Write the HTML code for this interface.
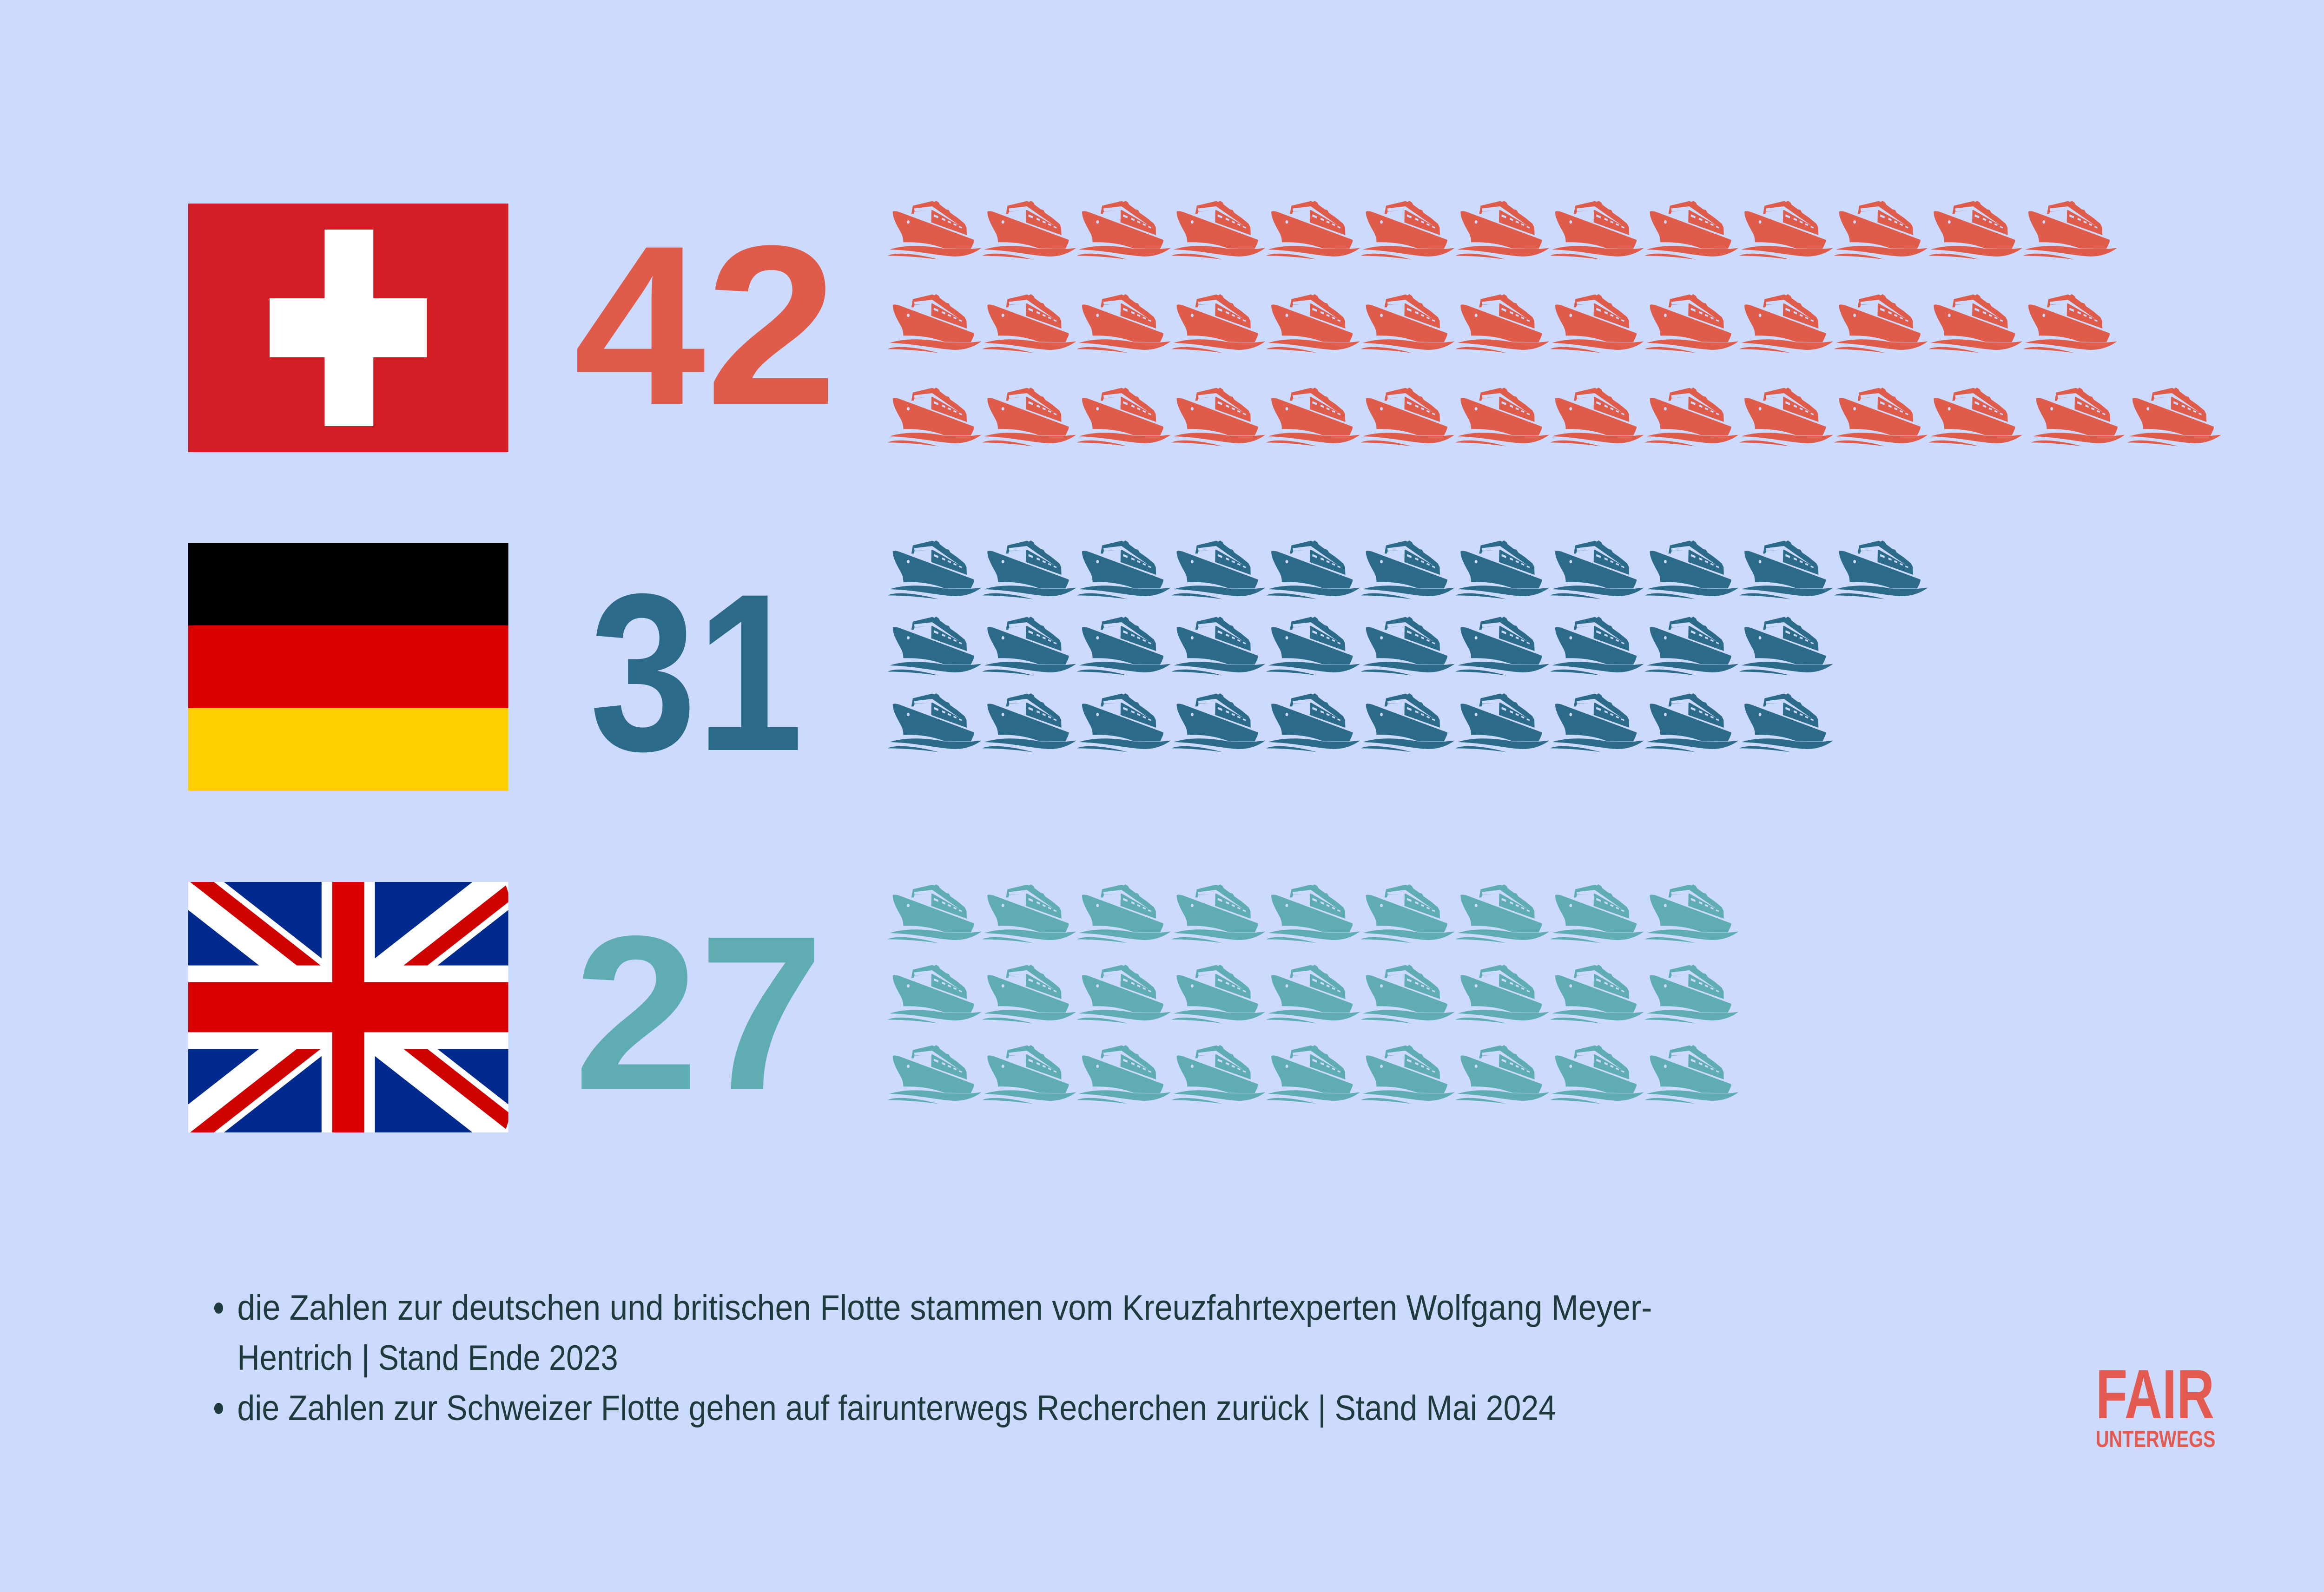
<!DOCTYPE html>
<html><head><meta charset="utf-8"><style>
html,body{margin:0;padding:0;background:#CCDAFD;overflow:hidden;width:100%;height:100%;}
svg.main{display:block;width:100vw;height:100vh;}
</style></head><body>
<svg class="main" viewBox="0 0 6250 3426" preserveAspectRatio="none" xmlns="http://www.w3.org/2000/svg" xmlns:xlink="http://www.w3.org/1999/xlink">
<defs>
<g id="ship"><g transform="scale(0.3333) translate(-15,-100)">
<path d="M60,175 C55,165 80,165 110,172 L715,352 C722,360 705,385 690,410 L475,408 C400,385 300,365 145,368 C145,340 135,320 125,305 C90,255 60,210 60,175 Z"/>
<path d="M35,415 C150,385 300,385 475,410 L690,412 L775,405 C700,450 620,460 560,460 C420,455 250,420 35,415 Z"/>
<path d="M18,455 C80,430 250,440 430,480 C300,465 150,455 18,455 Z"/>
<path d="M210,185 L222,132 L380,102 L395,108 L410,100 L432,112 L440,125 L490,155 L512,160 L525,178 L565,200 L582,210 L640,248 L655,272 L657,322 L370,240 L372,160 L362,160 L235,170 L228,185 Z"/>
<path fill="#CCDAFD" d="M232,150 L378,136 L600,260 L380,160 L236,168 Z"/>
<circle cx="185" cy="237" r="11" fill="#CCDAFD"/>
<g fill="#CCDAFD">
<path d="M392,188 L428,200 L426,214 L390,202 Z"/>
<path d="M458,210 L484,219 L482,231 L456,222 Z"/>
<path d="M506,228 L530,236 L528,247 L504,239 Z"/>
<path d="M551,245 L574,253 L572,263 L549,255 Z"/>
<path d="M595,262 L618,270 L616,279 L593,271 Z"/>
</g>
</g></g>
<g id="s9">
<use xlink:href="#ship" x="0"/><use xlink:href="#ship" x="254.5"/><use xlink:href="#ship" x="509"/>
<use xlink:href="#ship" x="763.5"/><use xlink:href="#ship" x="1018"/><use xlink:href="#ship" x="1272.5"/>
<use xlink:href="#ship" x="1527"/><use xlink:href="#ship" x="1781.5"/><use xlink:href="#ship" x="2036"/>
</g>
</defs>
<rect width="6250" height="3426" fill="#CCDAFD"/>

<rect x="506" y="438" width="861" height="535" fill="#D21F26"/>
<rect x="873" y="494" width="131" height="423" fill="#fff"/>
<rect x="725" y="642" width="423" height="127" fill="#fff"/>

<rect x="506" y="1168" width="861" height="179" fill="#000"/>
<rect x="506" y="1346" width="861" height="179" fill="#DD0000"/>
<rect x="506" y="1524" width="861" height="178" fill="#FFCE00"/>

<svg x="506" y="1898" width="861" height="539" viewBox="0 0 60 30" preserveAspectRatio="none">
<rect width="60" height="30" fill="#012A8F"/>
<path d="M0,0 L60,30 M60,0 L0,30" stroke="#fff" stroke-width="6"/>
<path d="M0,0 L30,15 M60,30 L30,15" stroke="#CF0000" stroke-width="2" transform="translate(0,-1.3)"/>
<path d="M60,0 L30,15 M0,30 L30,15" stroke="#CF0000" stroke-width="2" transform="translate(0,1.3)"/>
<path d="M30,0 V30 M0,15 H60" stroke="#fff" stroke-width="10"/>
<path d="M30,0 V30 M0,15 H60" stroke="#D80000" stroke-width="6"/>
</svg>

<text x="1543" y="869" font-family="Liberation Sans, sans-serif" font-weight="bold" font-size="489" fill="#E05C4A" textLength="709" lengthAdjust="spacingAndGlyphs">42</text>
<text x="1586" y="1614" font-family="Liberation Sans, sans-serif" font-weight="bold" font-size="483" fill="#2C6A8A" textLength="574" lengthAdjust="spacingAndGlyphs">31</text>
<text x="1543" y="2344" font-family="Liberation Sans, sans-serif" font-weight="bold" font-size="474" fill="#5FADB3" textLength="673" lengthAdjust="spacingAndGlyphs">27</text>

<g fill="#E05C4A">
<g transform="translate(2386,432)"><use xlink:href="#s9"/><use xlink:href="#ship" x="2290.5"/><use xlink:href="#ship" x="2545"/><use xlink:href="#ship" x="2799.5"/><use xlink:href="#ship" x="3054"/></g>
<g transform="translate(2386,633)"><use xlink:href="#s9"/><use xlink:href="#ship" x="2290.5"/><use xlink:href="#ship" x="2545"/><use xlink:href="#ship" x="2799.5"/><use xlink:href="#ship" x="3054"/></g>
<g transform="translate(2386,834)"><use xlink:href="#s9"/><use xlink:href="#ship" x="2290.5"/><use xlink:href="#ship" x="2545"/><use xlink:href="#ship" x="2799.5"/><use xlink:href="#ship" x="3075"/><use xlink:href="#ship" x="3334"/></g>
</g>
<g fill="#2C6A8A">
<g transform="translate(2386,1163)"><use xlink:href="#s9"/><use xlink:href="#ship" x="2290.5"/><use xlink:href="#ship" x="2545"/></g>
<g transform="translate(2386,1327)"><use xlink:href="#s9"/><use xlink:href="#ship" x="2290.5"/></g>
<g transform="translate(2386,1492)"><use xlink:href="#s9"/><use xlink:href="#ship" x="2290.5"/></g>
</g>
<g fill="#5FADB3">
<g transform="translate(2386,1903)"><use xlink:href="#s9"/></g>
<g transform="translate(2386,2076)"><use xlink:href="#s9"/></g>
<g transform="translate(2386,2249)"><use xlink:href="#s9"/></g>
</g>

<g fill="#1F3A3D" font-family="Liberation Sans, sans-serif" font-size="76">
<circle cx="588" cy="2815" r="12"/>
<circle cx="588" cy="3031" r="12"/>
<text x="638" y="2840" textLength="3805" lengthAdjust="spacingAndGlyphs">die Zahlen zur deutschen und britischen Flotte stammen vom Kreuzfahrtexperten Wolfgang Meyer-</text>
<text x="638" y="2948" textLength="1024" lengthAdjust="spacingAndGlyphs">Hentrich | Stand Ende 2023</text>
<text x="638" y="3056" textLength="3547" lengthAdjust="spacingAndGlyphs">die Zahlen zur Schweizer Flotte gehen auf fairunterwegs Recherchen zurück | Stand Mai 2024</text>
</g>

<g fill="#E35B50" font-family="Liberation Sans, sans-serif" font-weight="bold">
<text x="5636" y="3052" font-size="150" textLength="319" lengthAdjust="spacingAndGlyphs">FAIR</text>
<text x="5636" y="3114" font-size="50" textLength="322" lengthAdjust="spacingAndGlyphs">UNTERWEGS</text>
</g>
</svg>
</body></html>
